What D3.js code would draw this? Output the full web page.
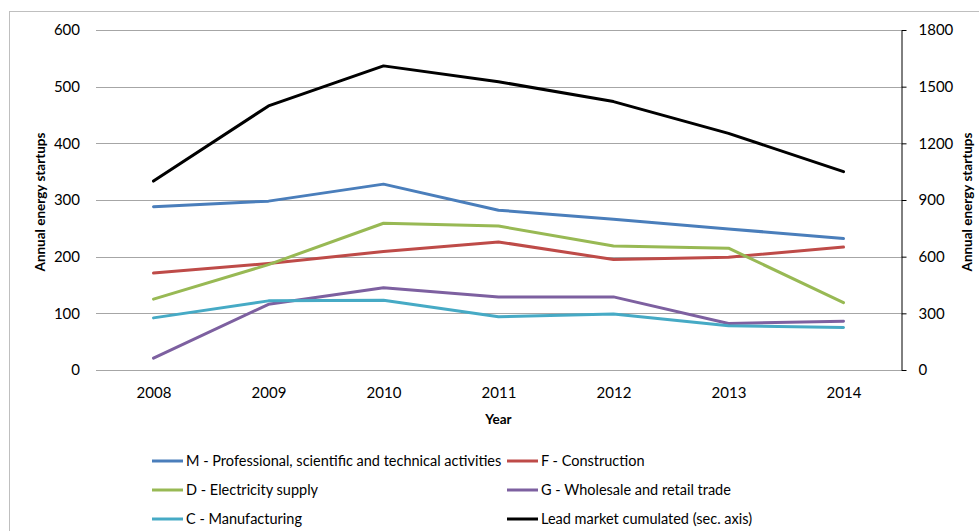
<!DOCTYPE html>
<html>
<head>
<meta charset="utf-8">
<script src="https://cdn.jsdelivr.net/npm/d3@7"></script>
<style>
  html, body { margin: 0; padding: 0; background: #fff; }
  svg { display: block; font-family: Lato, "Open Sans", sans-serif; }
</style>
</head>
<body>
<svg id="chart" width="979" height="531"></svg>
<script>
// Years on the category axis
const years = ["2008", "2009", "2010", "2011", "2012", "2013", "2014"];

// Annual energy startups per sector (primary axis)
const professional = [288, 298, 328, 282, 266, 249, 232];
const construction = [171, 188, 209, 226, 195, 199, 217];
const electricity  = [125, 186, 259, 254, 219, 215, 119];
const wholesale    = [21, 116, 145, 129, 129, 82, 86];
const manufacturing = [92, 122, 123, 94, 99, 78, 75];

// Lead market cumulated (secondary axis)
const leadMarket = [1000, 1398, 1610, 1526, 1421, 1253, 1050];

const leftTicks = [0, 100, 200, 300, 400, 500, 600];
const rightTicks = [0, 300, 600, 900, 1200, 1500, 1800];

const series = [
  { name: "M - Professional, scientific and technical activities", values: professional, color: "#4A7EBB", axis: "left" },
  { name: "F - Construction", values: construction, color: "#BE4B48", axis: "left" },
  { name: "D - Electricity supply", values: electricity, color: "#98B954", axis: "left" },
  { name: "G - Wholesale and retail trade", values: wholesale, color: "#7D60A0", axis: "left" },
  { name: "C - Manufacturing", values: manufacturing, color: "#46AAC5", axis: "left" },
  { name: "Lead market cumulated (sec. axis)", values: leadMarket, color: "#000000", axis: "right" }
];

const svg = d3.select("#chart");
const plot = { left: 96, right: 901, top: 30, bottom: 370 };
const tickFont = 15;

// Outer chart frame
svg.append("rect")
  .attr("x", 9.5).attr("y", 11.5)
  .attr("width", 979 - 9.5 + 5).attr("height", 531)
  .attr("fill", "none").attr("stroke", "#BFBFBF").attr("stroke-width", 1);

const x = d3.scalePoint().domain(years).range([plot.left, plot.right]).padding(0.5);
const yL = d3.scaleLinear().domain([0, 600]).range([plot.bottom, plot.top]);
const yR = d3.scaleLinear().domain([0, 1800]).range([plot.bottom, plot.top]);

// Horizontal gridlines
svg.append("g")
  .selectAll("line")
  .data(leftTicks)
  .join("line")
  .attr("x1", plot.left).attr("x2", plot.right)
  .attr("y1", d => Math.round(yL(d)) + 0.5).attr("y2", d => Math.round(yL(d)) + 0.5)
  .attr("stroke", "#A6A6A6").attr("stroke-width", 1);

// Left axis labels
const leftAxis = d3.axisLeft(yL).tickValues(leftTicks).tickFormat(d3.format("d")).tickSize(0).tickPadding(16);
const gL = svg.append("g").attr("transform", `translate(${plot.left},0)`).call(leftAxis);
gL.select(".domain").remove();
gL.selectAll("text").attr("font-size", tickFont).attr("fill", "#000").attr("font-family", "Lato, sans-serif");

// Right axis with outward ticks
const rightAxis = d3.axisRight(yR).tickValues(rightTicks).tickFormat(d3.format("d")).tickSize(5).tickPadding(12).tickSizeOuter(0);
const gR = svg.append("g").attr("transform", `translate(${plot.right + 0.5},0)`).call(rightAxis);
gR.select(".domain").attr("stroke", "#000").attr("stroke-width", 1);
gR.selectAll(".tick line").attr("stroke", "#000");
gR.selectAll("text").attr("font-size", tickFont).attr("fill", "#000").attr("font-family", "Lato, sans-serif");

// Bottom category labels
const bottomAxis = d3.axisBottom(x).tickSize(0).tickPadding(17);
const gB = svg.append("g").attr("transform", `translate(0,${plot.bottom})`).call(bottomAxis);
gB.select(".domain").remove();
gB.selectAll("text").attr("font-size", tickFont).attr("fill", "#000").attr("font-family", "Lato, sans-serif");

// Axis titles
svg.append("text")
  .attr("transform", `translate(45,${(plot.top + plot.bottom) / 2 + 2}) rotate(-90)`)
  .attr("text-anchor", "middle").attr("font-size", 13.5).attr("font-weight", "bold")
  .text("Annual energy startups");
svg.append("text")
  .attr("transform", `translate(972,${(plot.top + plot.bottom) / 2 + 2}) rotate(-90)`)
  .attr("text-anchor", "middle").attr("font-size", 13.5).attr("font-weight", "bold")
  .text("Annual energy startups");
svg.append("text")
  .attr("x", (plot.left + plot.right) / 2).attr("y", 424)
  .attr("text-anchor", "middle").attr("font-size", 13.5).attr("font-weight", "bold")
  .text("Year");

// Series lines
const lineFor = s => d3.line()
  .x((d, i) => x(years[i]))
  .y(d => (s.axis === "left" ? yL(d) : yR(d)));

svg.append("g")
  .selectAll("path")
  .data(series)
  .join("path")
  .attr("d", s => lineFor(s)(s.values))
  .attr("fill", "none")
  .attr("stroke", s => s.color)
  .attr("stroke-width", 3)
  .attr("stroke-linejoin", "round")
  .attr("stroke-linecap", "round");

// Legend: two columns, three rows
const legend = svg.append("g");
const colX = [152, 507];
const rowY = [461, 490, 519];
series.forEach((s, i) => {
  const cx = colX[i % 2], cy = rowY[Math.floor(i / 2)];
  legend.append("line")
    .attr("x1", cx).attr("x2", cx + 31).attr("y1", cy).attr("y2", cy)
    .attr("stroke", s.color).attr("stroke-width", 3);
  legend.append("text")
    .attr("x", cx + 34).attr("y", cy + 5)
    .attr("font-size", 14.5).attr("fill", "#000")
    .text(s.name);
});
</script>
</body>
</html>
